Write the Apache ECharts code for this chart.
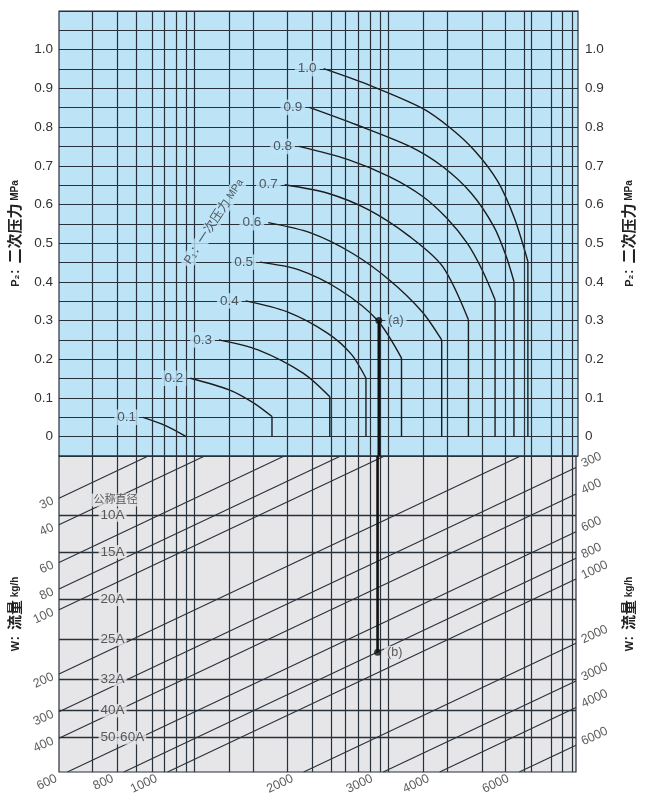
<!DOCTYPE html>
<html>
<head>
<meta charset="utf-8">
<script src="https://cdn.jsdelivr.net/npm/echarts@6/dist/echarts.min.js"></script>
<style>
  html, body { margin: 0; padding: 0; background: #fff; }
  #chart { width: 645px; height: 800px; }
</style>
</head>
<body>
<div id="chart"></div>
<script>
// 横轴（对数，不标刻度）：与底边上流量线的交点取值一致
const xMin = 575
const xMax = 8012
// 上图 P2 范围 MPa
const p2Min = -0.05
const p2Max = 1.1
// 下图纵轴：左边缘处的流量值（对数，向下增大）
const wLeftTop = 19.04
const wLeftBottom = 575

// 竖向网格线
const gridLinesX = [680.6, 772.7, 848.2, 918.6, 978.9, 1040, 1092, 1140, 1361, 1530, 1820, 2069, 2269, 2444,
  2606, 2759, 2915, 3028, 3610, 4073, 4860, 5467, 6012, 6247, 6904, 7304, 7680]

// P1 一次压力曲线 [x, P2]
const p1Labels = ['0.1', '0.2', '0.3', '0.4', '0.5', '0.6', '0.7', '0.8', '0.9', '1.0']
const curve01 = [[881, 0.05], [990, 0.028], [1097, 0]]
const curve02 = [[1120, 0.151], [1364, 0.121], [1540, 0.088], [1695, 0.052]]
const curve03 = [[1295, 0.25], [1579, 0.224], [1985, 0.164], [2273, 0.103]]
const curve04 = [[1483, 0.351], [1827, 0.323], [2250, 0.267], [2540, 0.212], [2731, 0.151]]
const curve05 = [[1596, 0.451], [1944, 0.431], [2394, 0.379], [2888, 0.302], [3271, 0.203]]
const curve06 = [[1663, 0.553], [2069, 0.526], [2548, 0.474], [3075, 0.405], [3631, 0.323], [4011, 0.25]]
const curve07 = [[1808, 0.651], [2250, 0.629], [2770, 0.586], [3412, 0.517], [4029, 0.44], [4594, 0.302]]
const curve08 = [[1944, 0.75], [2496, 0.716], [3075, 0.672], [3631, 0.622], [4114, 0.565], [4565, 0.5], [4930, 0.43], [5259, 0.354]]
const curve09 = [[2048, 0.851], [2603, 0.806], [3412, 0.75], [4029, 0.698], [4661, 0.629], [5227, 0.543], [5550, 0.47], [5788, 0.401]]
const curve10 = [[2203, 0.951], [2770, 0.909], [3631, 0.849], [4198, 0.797], [4759, 0.737], [5336, 0.659], [5800, 0.565], [6212, 0.453]]

// W 流量线 kg/h
const flowValues = [30, 40, 60, 80, 100, 200, 300, 400, 600, 800, 1000, 2000, 3000, 4000, 6000]

// 公称直径
const pipeSizes = ['10A', '15A', '20A', '25A', '32A', '40A', '50·60A']
const pipeLevels = [36.0, 53.5, 89.3, 137.5, 211.6, 296.9, 397.2]

// 示例 (a)(b)
const pointA = [2915, 0.3]
const pointB = [2915, 158]

const FONT = "'Liberation Sans', 'Noto Sans CJK SC', sans-serif"
const LINE = '#28303a'
const BLUE = '#bde3f7'
const GREY = '#e6e6e9'
const TEXT = '#333'

const p1Curves = [curve01, curve02, curve03, curve04, curve05, curve06, curve07, curve08, curve09, curve10]

const chart = echarts.init(document.getElementById('chart'))

const series = []

// 竖向网格线（覆盖上下两图）
series.push({
  type: 'line', xAxisIndex: 2, yAxisIndex: 4, data: [], z: 2, silent: true,
  markLine: {
    symbol: 'none', silent: true, animation: false, label: { show: false },
    lineStyle: { color: LINE, width: 1.2, type: 'solid' },
    data: gridLinesX.map(v => ({ xAxis: v }))
  }
})

// 公称直径横线
series.push({
  type: 'line', xAxisIndex: 1, yAxisIndex: 2, data: [], z: 2, silent: true,
  markLine: {
    symbol: 'none', silent: true, animation: false, label: { show: false },
    lineStyle: { color: LINE, width: 1.4, type: 'solid' },
    data: pipeLevels.map(v => ({ yAxis: v }))
  }
})

// 流量斜线
const flowSegs = flowValues.map(w => {
  const fromLeft = w <= wLeftBottom
  const start = fromLeft ? [xMin, w] : [w, wLeftBottom]
  const wRight = w * xMin / xMax
  const toRight = wRight >= wLeftTop
  const end = toRight ? [xMax, wRight] : [w * xMin / wLeftTop, wLeftTop]
  return { w, fromLeft, toRight, start, end }
})
flowSegs.forEach(s => {
  series.push({
    type: 'line', xAxisIndex: 1, yAxisIndex: 2, z: 3, symbol: 'none', silent: true,
    lineStyle: { color: LINE, width: 1.1 },
    data: [s.start, s.end]
  })
})
const flowLabelBase = { show: true, fontSize: 12.5, fontFamily: FONT, color: TEXT, rotate: 25, verticalAlign: 'middle' }
series.push({
  type: 'scatter', xAxisIndex: 1, yAxisIndex: 2, symbolSize: 0, clip: false, z: 6, silent: true,
  data: flowSegs.map(s => ({
    value: s.start,
    label: Object.assign({}, flowLabelBase, {
      formatter: String(s.w), align: 'right',
      position: s.fromLeft ? [-6, 2] : [-11, 6]
    })
  })).concat(flowSegs.filter(s => s.toRight).map(s => ({
    value: s.end,
    label: Object.assign({}, flowLabelBase, { formatter: String(s.w), align: 'left', position: [6, -3] })
  })))
})

// 公称直径标签
const sizeLabelX = 700
series.push({
  type: 'scatter', xAxisIndex: 1, yAxisIndex: 2, symbolSize: 0, clip: false, z: 6, silent: true,
  data: pipeSizes.map((n, i) => ({ value: [sizeLabelX, pipeLevels[i]], name: n })),
  label: {
    show: true, position: 'right', distance: 1, formatter: '{b}', fontSize: 13.5, fontFamily: FONT,
    color: TEXT, backgroundColor: GREY, padding: [0, 2]
  }
})
series.push({
  type: 'scatter', xAxisIndex: 1, yAxisIndex: 2, symbolSize: 0, clip: false, z: 6, silent: true,
  data: [{ value: [767, 30.6], name: '公称直径' }],
  label: { show: true, position: 'inside', formatter: '{b}', fontSize: 11, fontFamily: FONT, color: TEXT, backgroundColor: GREY, padding: [1, 2] }
})

// P1 曲线
p1Curves.forEach(c => {
  series.push({
    type: 'line', xAxisIndex: 0, yAxisIndex: 0, z: 4, symbol: 'none', smooth: 0.3, silent: true,
    lineStyle: { color: '#1c1c1c', width: 1.4 }, data: c
  })
  const last = c[c.length - 1]
  if (last[1] > 0) {
    series.push({
      type: 'line', xAxisIndex: 0, yAxisIndex: 0, z: 4, symbol: 'none', silent: true,
      lineStyle: { color: '#1c1c1c', width: 1.4 }, data: [last, [last[0], 0]]
    })
  }
})
series.push({
  type: 'scatter', xAxisIndex: 0, yAxisIndex: 0, symbolSize: 0, clip: false, z: 6, silent: true,
  data: p1Curves.map((c, i) => ({ value: c[0], name: p1Labels[i] })),
  label: {
    show: true, position: 'left', distance: 4, formatter: '{b}', fontSize: 13.5, fontFamily: FONT,
    color: TEXT, backgroundColor: BLUE, padding: [1, 3]
  }
})
series.push({
  type: 'scatter', xAxisIndex: 0, yAxisIndex: 0, symbolSize: 0, clip: false, z: 6, silent: true,
  data: [{ value: [1264, 0.556], name: 'p1' }],
  label: {
    show: true, position: 'inside', rotate: 57, backgroundColor: BLUE, padding: [1, 3],
    formatter: '{a|P₁：}{b|一次压力}{c| MPa}',
    rich: {
      a: { fontSize: 12, fontFamily: FONT, color: TEXT },
      b: { fontSize: 12.5, fontFamily: FONT, color: TEXT },
      c: { fontSize: 10.5, fontFamily: FONT, color: TEXT }
    }
  }
})

// 示例线 (a) → (b)
series.push({
  type: 'line', xAxisIndex: 0, yAxisIndex: 0, z: 5, symbol: 'none', silent: true,
  lineStyle: { color: '#111', width: 2.6 }, data: [pointA, [pointA[0], p2Min]]
})
series.push({
  type: 'line', xAxisIndex: 1, yAxisIndex: 2, z: 5, symbol: 'none', silent: true,
  lineStyle: { color: '#111', width: 2.6 }, data: [[pointB[0], wLeftTop], pointB]
})
series.push({
  type: 'scatter', xAxisIndex: 0, yAxisIndex: 0, symbolSize: 7, z: 7, silent: true,
  itemStyle: { color: '#111' },
  data: [{ value: pointA, name: '(a)' }],
  label: { show: true, position: 'right', distance: 3, formatter: '{b}', fontSize: 12.5, fontFamily: FONT, color: TEXT, backgroundColor: BLUE, padding: [0, 3] }
})
series.push({
  type: 'scatter', xAxisIndex: 1, yAxisIndex: 2, symbolSize: 7, z: 7, silent: true,
  itemStyle: { color: '#111' },
  data: [{ value: pointB, name: '(b)' }],
  label: { show: true, position: 'right', distance: 3, formatter: '{b}', fontSize: 12.5, fontFamily: FONT, color: TEXT, backgroundColor: GREY, padding: [0, 3] }
})

const p2Label = v => {
  const r = Math.round(v * 100)
  if (r < 0 || r > 100 || r % 10 !== 0) return ''
  return r === 0 ? '0' : (r / 100).toFixed(1)
}
const nameRich = {
  a: { fontSize: 11, fontWeight: 'bold', fontFamily: FONT, color: '#222' },
  b: { fontSize: 15, fontWeight: 'bold', fontFamily: FONT, color: '#222' },
  c: { fontSize: 10, fontWeight: 'bold', fontFamily: FONT, color: '#222' }
}
const p2Axis = (pos, gap) => ({
  type: 'value', gridIndex: 0, position: pos, min: p2Min, max: p2Max, interval: 0.05,
  name: '{a|P₂：}{b|二次压力}{c| MPa}', nameLocation: 'middle', nameRotate: 90, nameGap: gap,
  nameTextStyle: { rich: nameRich },
  axisLine: { show: false }, axisTick: { show: false },
  axisLabel: { formatter: p2Label, fontSize: 13.5, fontFamily: FONT, color: TEXT, margin: pos === 'left' ? 6 : 7 },
  splitLine: { show: pos === 'left', lineStyle: { color: LINE, width: 1.2 } }
})
const wAxis = (pos, gap) => ({
  type: 'log', gridIndex: 1, position: pos, inverse: true, min: wLeftTop, max: wLeftBottom,
  name: '{a|W：}{b|流量}{c| kg/h}', nameLocation: 'middle', nameRotate: 90, nameGap: gap,
  nameTextStyle: { rich: nameRich },
  axisLine: { show: false }, axisTick: { show: false }, axisLabel: { show: false }, splitLine: { show: false }
})

chart.setOption({
  animation: false,
  backgroundColor: '#fff',
  grid: [
    { left: 59, right: 64, top: 11, height: 445, show: true, backgroundColor: BLUE, borderColor: LINE, borderWidth: 1.2 },
    { left: 59, right: 64, top: 456, height: 316, show: true, backgroundColor: GREY, borderColor: LINE, borderWidth: 1.2 },
    { left: 59, right: 64, top: 11, height: 761 }
  ],
  xAxis: [0, 1, 2].map(i => ({ type: 'log', gridIndex: i, min: xMin, max: xMax, show: false })),
  yAxis: [
    p2Axis('left', 36),
    p2Axis('right', 44),
    wAxis('left', 36),
    wAxis('right', 46),
    { type: 'value', gridIndex: 2, min: 0, max: 1, show: false }
  ],
  series
})
</script>
</body>
</html>
